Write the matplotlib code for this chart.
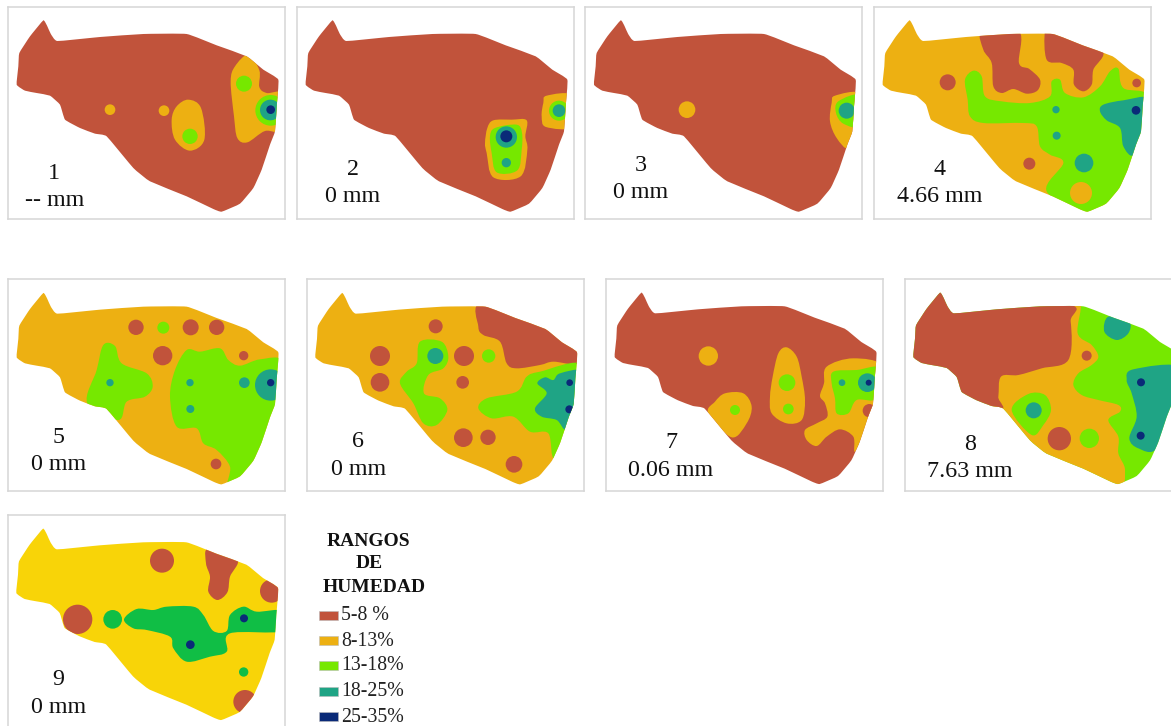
import matplotlib
matplotlib.use("Agg")
import matplotlib.pyplot as plt
from matplotlib.path import Path
from matplotlib.patches import PathPatch, Circle, Rectangle

W, H = 1171, 726
plt.rcParams['font.family'] = ['Liberation Serif', 'DejaVu Serif']

# Colours of the moisture ranges
BROWN, ORANGE, GREEN, TEAL, NAVY = '#C1533B', '#EDB012', '#76E800', '#1FA485', '#0A2A78'
YELLOW, DKGREEN = '#F8D408', '#10BE45'

LEGEND_TITLE = ['RANGOS', 'DE', 'HUMEDAD']
LEGEND_LABELS = ['5-8 %', '8-13%', '13-18%', '18-25%', '25-35%']
LEGEND_COLORS = [BROWN, ORANGE, GREEN, TEAL, NAVY]

# Field outline (map units = 1/3 pixel)
OUTLINE = [(130,62),(142,80),(152,102),(172,124),(300,112),(430,103),(560,103),(650,137),
           (740,170),(790,210),(835,240),(830,320),(825,395),(810,435),(785,510),(760,565),
           (720,612),(665,636),(640,628),(560,590),(450,545),(400,505),(320,410),(285,402),
           (240,385),(195,360),(180,315),(150,288),(110,280),(75,273),(50,255),(55,200),
           (58,160),(90,110)]

# Each zone: (colour, (x, y, r)) is a round zone; (colour, [points]) is a free-form zone
ZONES_1 = [
    (ORANGE, [(745,165),(778,212),(778,262),(800,280),(850,284),(850,392),(795,394),(742,428),
              (712,415),(702,350),(692,245),(705,200)]),
    (GREEN, (732,252,24)), (GREEN, (812,332,46)), (TEAL, (811,331,31)), (NAVY, (812,330,13)),
    (ORANGE, (330,330,16)), (ORANGE, (492,333,16)),
    (ORANGE, [(565,300),(603,325),(613,420),(570,453),(525,420),(515,360),(530,320)]),
    (GREEN, (570,410,23)),
]
ZONES_2 = [
    (ORANGE, [(610,362),(665,360),(710,362),(706,410),(712,450),(692,530),(610,533),(590,460),(585,430),(592,385)]),
    (GREEN, [(615,385),(680,375),(696,400),(695,450),(682,512),(620,518),(605,460),(600,410)]),
    (TEAL, (649,412,32)), (NAVY, (649,410,18)), (TEAL, (649,489,14)),
    (ORANGE, [(770,288),(850,288),(850,380),(768,382),(755,350),(760,310)]),
    (GREEN, (807,333,30)), (TEAL, (807,333,19)),
]
ZONES_3 = [
    (ORANGE, (321,330,25)),
    (ORANGE, [(765,288),(840,282),(830,370),(805,445),(770,415),(750,365),(755,310)]),
    (GREEN, [(775,305),(840,288),(840,378),(790,372),(768,340)]),
    (TEAL, (800,333,24)),
]
ZONES_4 = [
    (BROWN, [(337,95),(447,95),(447,190),(478,208),(510,240),(503,272),(470,282),(430,268),(395,280),
             (370,260),(365,190),(340,150)]),
    (BROWN, [(525,95),(548,95),(695,150),(670,210),(665,255),(640,275),(612,255),(610,210),(575,190),(530,180)]),
    (GREEN, [(310,213),(335,230),(345,290),(395,305),(480,310),(540,290),(545,245),(570,240),(585,280),
             (640,293),(690,260),(720,215),(745,207),(760,265),(840,295),(835,470),(780,560),(720,620),
             (655,650),(530,575),(580,490),(540,465),(510,440),(500,380),(460,370),(340,370),(300,350),
             (293,300),(285,240)]),
    (TEAL, [(700,315),(760,302),(840,298),(825,400),(790,467),(760,440),(750,385),(710,362),(690,335)]),
    (NAVY, (798,332,13)), (TEAL, (558,330,11)), (TEAL, (560,408,12)), (TEAL, (642,490,28)),
    (ORANGE, (633,580,33)), (BROWN, (233,248,24)), (BROWN, (478,492,18)), (BROWN, (800,250,13)),
]
ZONES_5 = [
    (BROWN, (408,172,23)), (BROWN, (572,172,24)), (BROWN, (650,172,23)), (BROWN, (488,257,29)),
    (BROWN, (731,257,14)), (BROWN, (648,582,16)), (GREEN, (490,173,18)),
    (GREEN, [(310,225),(345,228),(365,280),(440,310),(458,350),(435,380),(380,395),(355,450),(262,400),(290,300)]),
    (GREEN, [(560,240),(600,245),(660,235),(685,270),(720,287),(780,268),(850,275),(835,400),(810,490),
             (770,590),(685,650),(690,590),(650,540),(610,520),(590,475),(530,470),(510,380),(525,300)]),
    (TEAL, (330,338,11)), (TEAL, (570,338,11)), (TEAL, (571,417,12)), (TEAL, (733,338,16)),
    (TEAL, (812,345,47)), (NAVY, (812,338,11)),
]
ZONES_6 = [
    (BROWN, [(545,100),(745,165),(850,245),(830,282),(760,275),(720,285),(650,295),(620,280),(600,215),
             (550,195),(535,170)]),
    (BROWN, (407,169,21)), (BROWN, (240,258,30)), (BROWN, (240,337,28)), (BROWN, (492,258,30)),
    (BROWN, (488,337,19)), (BROWN, (490,503,28)), (BROWN, (564,502,23)), (BROWN, (642,583,25)),
    (GREEN, (566,258,20)),
    (GREEN, [(360,215),(425,215),(445,260),(430,295),(385,315),(372,370),(420,385),(442,420),(410,465),
             (370,460),(340,400),(300,340),(320,305),(350,280)]),
    (TEAL, (406,258,24)),
    (GREEN, [(850,285),(720,305),(680,320),(650,365),(560,385),(535,415),(575,445),(640,440),(690,485),
             (745,490),(765,565),(840,440)]),
    (TEAL, [(735,322),(760,330),(780,310),(850,305),(835,400),(800,478),(770,450),(725,440),(705,415),
            (740,370),(712,340)]),
    (NAVY, (809,338,10)), (NAVY, (808,418,12)),
]
ZONES_7 = [
    (ORANGE, (325,258,29)),
    (ORANGE, [(375,370),(430,370),(455,410),(440,460),(395,502),(325,430),(345,395)]),
    (GREEN, (405,420,15)),
    (ORANGE, [(560,232),(590,260),(605,320),(615,390),(605,450),(560,460),(515,430),(510,380),(518,320),(535,250)]),
    (GREEN, (561,338,25)), (GREEN, (565,417,16)),
    (ORANGE, [(760,265),(850,290),(835,400),(800,470),(765,545),(760,500),(720,478),(680,500),(650,528),
              (620,510),(615,480),(650,460),(682,440),(675,400),(660,378),(672,340),(680,290)]),
    (GREEN, [(700,305),(770,300),(840,295),(830,385),(770,390),(745,430),(710,430),(705,385),(695,340)]),
    (TEAL, (726,338,10)), (TEAL, (802,338,28)), (NAVY, (806,338,9)), (BROWN, (808,422,20)),
]
ZONES_8 = [
    (ORANGE, [(495,95),(556,95),(548,190),(590,225),(610,260),(590,285),(550,310),(535,345),(560,375),
              (610,390),(670,405),(675,425),(640,450),(670,500),(670,550),(690,600),(670,660),(550,620),
              (420,545),(285,420),(330,300),(400,295),(495,200)]),
    (BROWN, [(20,30),(500,95),(527,155),(520,270),(440,295),(370,315),(318,320),(310,380),(302,425),(20,420)]),
    (BROWN, (575,257,15)),
    (TEAL, [(640,140),(702,155),(700,190),(665,210),(628,185)]),
    (TEAL, [(715,298),(860,293),(850,420),(785,537),(730,535),(703,505),(725,440),(710,370),(695,330)]),
    (NAVY, (738,337,12)), (NAVY, (737,497,12)),
    (GREEN, [(350,420),(400,372),(450,375),(468,420),(445,465),(410,495)]),
    (TEAL, (416,421,24)), (BROWN, (493,506,35)), (GREEN, (583,505,29)),
]
ZONES_9 = [
    (BROWN, (486,167,36)),
    (BROWN, [(625,130),(712,162),(690,215),(682,262),(652,285),(625,260),(630,215),(618,175)]),
    (BROWN, (815,258,35)), (BROWN, (233,343,44)), (BROWN, (735,590,35)),
    (DKGREEN, (338,343,28)),
    (DKGREEN, [(372,343),(410,312),(460,315),(500,305),(580,305),(610,330),(640,378),(680,378),(690,330),
               (730,305),(770,320),(850,318),(850,378),(690,385),(680,440),(630,455),(560,470),(520,430),
               (510,395),(440,375),(400,370)]),
    (NAVY, (732,340,12)), (NAVY, (571,419,13)), (DKGREEN, (731,501,14)),
]

# One panel per entry of these lists
FRAME_X = [8, 297, 585, 874, 8, 307, 606, 905, 8]
FRAME_Y = [7, 7, 7, 7, 279, 279, 279, 279, 515]
ORIGIN_X = [24, 21, 15, 12, 24, 21, 18, 30, 24]
ORIGIN_Y = [22, 22, 22, 22, 27, 27, 27, 27, 30]
SHIFT_X = [0, -3, -8, -12, 0, -4, -6, 5, -1]
SHIFT_Y = [0, 0, 0, 0, 7, 7, 6, 6, 9]
BACKGROUND = [BROWN, BROWN, BROWN, ORANGE, ORANGE, ORANGE, BROWN, GREEN, YELLOW]
ZONES = [ZONES_1, ZONES_2, ZONES_3, ZONES_4, ZONES_5, ZONES_6, ZONES_7, ZONES_8, ZONES_9]
NUMBERS = ['1', '2', '3', '4', '5', '6', '7', '8', '9']
RAIN = ['-- mm', '0 mm', '0 mm', '4.66 mm', '0 mm', '0 mm', '0.06 mm', '7.63 mm', '0 mm']
NUM_POS = [(163,522),(188,509),(182,497),(209,509),(175,502),(175,515),(213,519),(225,522),(175,524)]
RAIN_POS = [(165,604),(188,592),(182,580),(208,592),(175,582),(175,599),(213,602),(225,605),(175,607)]

FRAME_W, FRAME_H = 277, 212


def smooth_blob(points, k=1 / 6):
    """Closed smooth path through the given boundary points (Catmull-Rom as Bezier)."""
    n = len(points)
    verts, codes = [points[0]], [Path.MOVETO]
    for i in range(n):
        p0, p1, p2, p3 = (points[(i + j - 1) % n] for j in range(4))
        c1 = (p1[0] + (p2[0] - p0[0]) * k, p1[1] + (p2[1] - p0[1]) * k)
        c2 = (p2[0] - (p3[0] - p1[0]) * k, p2[1] - (p3[1] - p1[1]) * k)
        verts += [c1, c2, p2]
        codes += [Path.CURVE4] * 3
    return Path(verts, codes)


fig = plt.figure(figsize=(W / 100, H / 100), dpi=100, facecolor='white')

for i in range(9):
    ax = fig.add_axes([FRAME_X[i] / W, 1 - (FRAME_Y[i] + FRAME_H) / H, FRAME_W / W, FRAME_H / H])
    ax.set_xlim(ORIGIN_X[i], ORIGIN_X[i] + FRAME_W * 3)
    ax.set_ylim(ORIGIN_Y[i] + FRAME_H * 3, ORIGIN_Y[i])
    ax.set_xticks([]); ax.set_yticks([])
    for s in ax.spines.values():
        s.set_color('#D6D6D6'); s.set_linewidth(1.1)
    shape = [(x + SHIFT_X[i], y + SHIFT_Y[i]) for x, y in OUTLINE]
    field = PathPatch(smooth_blob(shape, 1 / 16), facecolor=BACKGROUND[i], edgecolor='none', zorder=1)
    ax.add_patch(field)
    for z, (color, geom) in enumerate(ZONES[i]):
        if isinstance(geom, tuple):
            p = Circle(geom[:2], geom[2], facecolor=color, edgecolor='none', zorder=2 + z * 0.01)
        else:
            p = PathPatch(smooth_blob(geom), facecolor=color, edgecolor='none', zorder=2 + z * 0.01)
        ax.add_patch(p)
        p.set_clip_path(field)
    ax.text(*NUM_POS[i], NUMBERS[i], fontsize=17.3, ha='center', va='center', color='#111111', zorder=5)
    ax.text(*RAIN_POS[i], RAIN[i], fontsize=17.3, ha='center', va='center', color='#111111', zorder=5)

# Legend, in pixel coordinates of the figure
lg = fig.add_axes([0, 0, 1, 1], facecolor='none')
lg.set_xlim(0, W); lg.set_ylim(H, 0); lg.axis('off')
for label, x, y in zip(LEGEND_TITLE, [368, 369, 374], [541, 564, 587]):
    lg.text(x, y, label, fontsize=14, fontweight='bold', ha='center', va='center', color='#111111')
for label, color, y in zip(LEGEND_LABELS, LEGEND_COLORS, [615, 640, 665, 691, 716]):
    lg.add_patch(Rectangle((319, y - 4.5), 19, 9, facecolor=color, edgecolor='#BBBBBB', linewidth=0.4))
    lg.text(341, y + 1, label, fontsize=14.3, ha='left', va='center', color='#222222')

fig.savefig('out.png', dpi=100)
